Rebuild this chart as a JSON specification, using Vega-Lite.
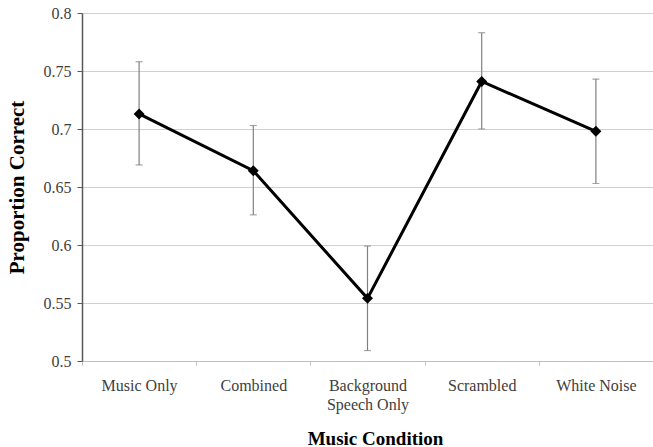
{
  "$schema": "https://vega.github.io/schema/vega-lite/v6.json",
  "width": 571,
  "height": 348,
  "autosize": "none",
  "padding": {"left": 82, "top": 13, "right": 0, "bottom": 86},
  "background": "white",
  "config": {
    "view": {"stroke": null},
    "font": "Liberation Serif"
  },
  "data": {
    "values": [
      {"cond": "Music Only", "mean": 0.713, "lo": 0.669, "hi": 0.758},
      {"cond": "Combined", "mean": 0.664, "lo": 0.626, "hi": 0.703},
      {"cond": "Background Speech Only", "mean": 0.554, "lo": 0.509, "hi": 0.599},
      {"cond": "Scrambled", "mean": 0.741, "lo": 0.7, "hi": 0.783},
      {"cond": "White Noise", "mean": 0.698, "lo": 0.653, "hi": 0.743}
    ]
  },
  "encoding": {
    "x": {
      "field": "cond",
      "type": "nominal",
      "sort": null,
      "scale": {"type": "band", "paddingInner": 0, "paddingOuter": 0},
      "axis": {
        "title": "Music Condition",
        "titleFont": "Liberation Serif",
        "titleFontSize": 19,
        "titleFontWeight": "bold",
        "titleColor": "#000000",
        "titleX": 293,
        "titleY": 77,
        "titleBaseline": "middle",
        "labelFont": "Liberation Serif",
        "labelFontSize": 16,
        "labelColor": "#404040",
        "labelAngle": 0,
        "labelPadding": 12,
        "labelLineHeight": 19,
        "labelExpr": "datum.value == 'Background Speech Only' ? ['Background', 'Speech Only'] : datum.label",
        "tickBand": "extent",
        "tickSize": 4,
        "tickColor": "#c0c0c0",
        "domainColor": "#c0c0c0",
        "domainWidth": 1,
        "grid": false
      }
    }
  },
  "layer": [
    {
      "mark": {"type": "rule", "color": "#808080", "strokeWidth": 1.2},
      "encoding": {
        "y": {
          "field": "lo",
          "type": "quantitative",
          "scale": {"domain": [0.5, 0.8], "zero": false, "nice": false},
          "axis": {
            "title": "Proportion Correct",
            "titleFont": "Liberation Serif",
            "titleFontSize": 21,
            "titleFontWeight": "bold",
            "titleColor": "#000000",
            "titleX": -65,
            "titleY": 174,
            "titleBaseline": "middle",
            "values": [0.5, 0.55, 0.6, 0.65, 0.7, 0.75, 0.8],
            "format": ".2~f",
            "labelFont": "Liberation Serif",
            "labelFontSize": 16,
            "labelColor": "#404040",
            "labelPadding": 6,
            "tickSize": 5,
            "tickColor": "#595959",
            "domainColor": "#595959",
            "domainWidth": 1.5,
            "grid": true,
            "gridColor": "#d0d0d0",
            "gridWidth": 1.2
          }
        },
        "y2": {"field": "hi"}
      }
    },
    {
      "mark": {"type": "tick", "color": "#808080", "size": 7, "thickness": 1.2},
      "encoding": {"y": {"field": "lo", "type": "quantitative"}}
    },
    {
      "mark": {"type": "tick", "color": "#808080", "size": 7, "thickness": 1.2},
      "encoding": {"y": {"field": "hi", "type": "quantitative"}}
    },
    {
      "mark": {"type": "line", "color": "#000000", "strokeWidth": 3},
      "encoding": {"y": {"field": "mean", "type": "quantitative"}}
    },
    {
      "mark": {"type": "point", "shape": "diamond", "filled": true, "color": "#000000", "opacity": 1, "size": 120},
      "encoding": {"y": {"field": "mean", "type": "quantitative"}}
    }
  ]
}
